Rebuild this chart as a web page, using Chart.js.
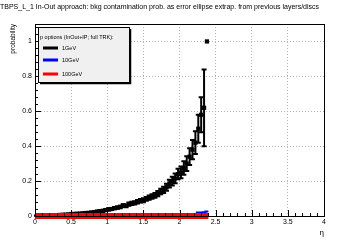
<!DOCTYPE html>
<html>
<head>
<meta charset="utf-8">
<style>
  html, body { margin: 0; padding: 0; background: #fff; }
  #wrap { width: 360px; height: 240px; }
</style>
<script src="https://cdn.jsdelivr.net/npm/chart.js@4.4.1/dist/chart.umd.min.js"></script>
</head>
<body>
<div id="wrap"><canvas id="chart" width="360" height="240"></canvas></div>
<script>
// bin centres in eta (bin width 0.04)
const etaCenters = [0.02, 0.06, 0.10, 0.14, 0.18, 0.22, 0.26, 0.30, 0.34, 0.38,
  0.42, 0.46, 0.50, 0.54, 0.58, 0.62, 0.66, 0.70, 0.74, 0.78,
  0.82, 0.86, 0.90, 0.94, 0.98, 1.02, 1.06, 1.10, 1.14, 1.18,
  1.22, 1.26, 1.30, 1.34, 1.38, 1.42, 1.46, 1.50, 1.54, 1.58,
  1.62, 1.66, 1.70, 1.74, 1.78, 1.82, 1.86, 1.90, 1.94, 1.98,
  2.02, 2.06, 2.10, 2.14, 2.18, 2.22, 2.26, 2.30, 2.34, 2.38];
const binHalfWidth = 0.02;

const prob1GeV = [0.002, 0.002, 0.003, 0.003, 0.004, 0.004, 0.005, 0.005, 0.006, 0.007,
  0.008, 0.009, 0.011, 0.012, 0.013, 0.014, 0.015, 0.017, 0.018, 0.020,
  0.022, 0.025, 0.028, 0.030, 0.034, 0.038, 0.040, 0.045, 0.048, 0.052,
  0.060, 0.058, 0.068, 0.072, 0.075, 0.082, 0.088, 0.090, 0.098, 0.105,
  0.112, 0.118, 0.128, 0.140, 0.150, 0.165, 0.185, 0.200, 0.215, 0.240,
  0.250, 0.275, 0.300, 0.340, 0.380, 0.420, 0.500, 0.580, 0.620, 1.000];
const err1GeV = [0.001, 0.001, 0.001, 0.001, 0.001, 0.002, 0.002, 0.002, 0.002, 0.002,
  0.002, 0.002, 0.003, 0.003, 0.003, 0.003, 0.003, 0.004, 0.004, 0.004,
  0.004, 0.005, 0.005, 0.005, 0.006, 0.006, 0.006, 0.007, 0.007, 0.007,
  0.008, 0.008, 0.009, 0.009, 0.009, 0.010, 0.010, 0.011, 0.011, 0.012,
  0.013, 0.014, 0.015, 0.016, 0.018, 0.020, 0.022, 0.025, 0.028, 0.030,
  0.034, 0.038, 0.042, 0.048, 0.055, 0.065, 0.080, 0.100, 0.220, 0.000];
const prob10GeV = [0, 0, 0, 0, 0, 0, 0, 0, 0, 0,
  0, 0, 0, 0, 0, 0, 0, 0, 0, 0,
  0, 0, 0, 0, 0, 0, 0, 0, 0, 0,
  0, 0, 0, 0, 0, 0, 0, 0, 0, 0,
  0, 0, 0, 0, 0, 0, 0, 0, 0, 0,
  0, 0, 0, 0, 0.002, 0.012, 0.020, 0.020, 0.021, 0.026];
const prob100GeV = [0, 0, 0, 0, 0, 0, 0, 0, 0, 0,
  0, 0, 0, 0, 0, 0, 0, 0, 0, 0,
  0, 0, 0, 0, 0, 0, 0, 0, 0, 0,
  0, 0, 0, 0, 0, 0, 0, 0, 0, 0,
  0, 0, 0, 0, 0, 0, 0, 0, 0, 0,
  0, 0, 0, 0, 0, 0, 0, 0, 0, 0];

const seriesLabels = ["1GeV", "10GeV", "100GeV"];
const seriesColors = ["#000000", "#0000ff", "#ff0000"];
const legendHeader = "p options (InOut+IP; full TRK):";
const chartTitle = "TBPS_L_1 In-Out approach: bkg contamination prob. as error ellipse extrap. from previous layers/discs";

const FONT = "'Liberation Sans', Arial, sans-serif";

// ROOT-like labels: "0", "0.5", "1" rather than "0.0", "1.0"
const tickText = (v) => String(Number(v.toFixed(2)));

// histogram outline: one point per low bin edge plus the last upper edge
function stepPoints(vals) {
  const pts = etaCenters.map((c, i) => ({ x: c - binHalfWidth, y: vals[i] }));
  const last = etaCenters.length - 1;
  pts.push({ x: etaCenters[last] + binHalfWidth, y: vals[last] });
  return pts;
}

const errorBars = {
  id: "errorBars",
  afterDatasetDraw(chart, args) {
    if (args.index !== 0) return;
    const { ctx, scales: { x, y } } = chart;
    ctx.save();
    ctx.strokeStyle = "#000";
    ctx.lineWidth = 2;
    etaCenters.forEach((c, i) => {
      const px = x.getPixelForValue(c);
      const py = y.getPixelForValue(prob1GeV[i]);
      ctx.beginPath();
      ctx.moveTo(x.getPixelForValue(c - binHalfWidth), py);
      ctx.lineTo(x.getPixelForValue(c + binHalfWidth), py);
      if (err1GeV[i] > 0) {
        const top = y.getPixelForValue(prob1GeV[i] + err1GeV[i]);
        const bot = y.getPixelForValue(prob1GeV[i] - err1GeV[i]);
        ctx.moveTo(px, top); ctx.lineTo(px, bot);
        ctx.moveTo(px - 2.5, top); ctx.lineTo(px + 2.5, top);
        ctx.moveTo(px - 2.5, bot); ctx.lineTo(px + 2.5, bot);
      }
      ctx.stroke();
    });
    ctx.restore();
  }
};

const frameAndLegend = {
  id: "frameAndLegend",
  afterDraw(chart) {
    const { ctx, chartArea: a, scales: { x, y } } = chart;
    ctx.save();
    // inward ticks
    ctx.strokeStyle = "#000";
    ctx.lineWidth = 1;
    ctx.beginPath();
    for (let i = 0; i <= 40; i++) {
      const px = Math.round(x.getPixelForValue(i / 10)) + 0.5;
      const len = i % 5 === 0 ? 6 : 3;
      ctx.moveTo(px, a.bottom); ctx.lineTo(px, a.bottom - len);
    }
    for (let i = 0; i <= 27; i++) {
      const py = Math.round(y.getPixelForValue(i * 0.04)) + 0.5;
      const len = i % 5 === 0 ? 6 : 3;
      ctx.moveTo(a.left, py); ctx.lineTo(a.left + len, py);
    }
    ctx.stroke();
    // frame
    ctx.strokeRect(Math.round(a.left) + 0.5, Math.round(a.top) + 0.5,
      Math.round(a.right - a.left), Math.round(a.bottom - a.top));

    // legend box
    const bx = 38, by = 27, bw = 91, bh = 55;
    ctx.fillStyle = "#f0f0f0";
    ctx.fillRect(bx, by, bw, bh);
    ctx.strokeRect(bx + 0.5, by + 0.5, bw, bh);
    ctx.lineWidth = 1.5;
    ctx.beginPath();
    ctx.moveTo(bx + bw + 1.5, by + 2); ctx.lineTo(bx + bw + 1.5, by + bh + 1.5);
    ctx.lineTo(bx + 2, by + bh + 1.5);
    ctx.stroke();
    ctx.fillStyle = "#000";
    ctx.font = "5.5px " + FONT;
    ctx.textBaseline = "middle";
    ctx.fillText(legendHeader, bx + 2, by + 10);
    const rows = [48, 60, 74];
    seriesLabels.forEach((lab, i) => {
      ctx.strokeStyle = seriesColors[i];
      ctx.lineWidth = 3;
      ctx.beginPath();
      ctx.moveTo(43, rows[i]); ctx.lineTo(58, rows[i]);
      ctx.stroke();
      ctx.fillStyle = "#000";
      ctx.fillText(lab, 62, rows[i]);
    });
    ctx.restore();
  }
};

new Chart(document.getElementById("chart"), {
  type: "scatter",
  data: {
    datasets: [
      {
        label: seriesLabels[0],
        data: etaCenters.map((c, i) => ({ x: c, y: prob1GeV[i] })),
        pointStyle: "rect", pointRadius: 3,
        backgroundColor: "#000", borderColor: "#000", borderWidth: 0,
        order: 3,
      },
      {
        label: seriesLabels[1],
        data: stepPoints(prob10GeV),
        type: "line", showLine: true, stepped: "before",
        pointRadius: 0, borderColor: seriesColors[1], borderWidth: 2,
        order: 2, clip: 4,
      },
      {
        label: seriesLabels[2],
        data: stepPoints(prob100GeV),
        type: "line", showLine: true, stepped: "before",
        pointRadius: 0, borderColor: seriesColors[2], borderWidth: 6,
        borderCapStyle: "butt", order: 1, clip: 4,
      },
    ]
  },
  options: {
    responsive: false,
    animation: false,
    devicePixelRatio: 1,
    layout: { padding: { left: 0, right: 36, top: 0, bottom: 0 } },
    plugins: {
      legend: { display: false },
      tooltip: { enabled: false },
      title: {
        display: true, text: chartTitle, align: "start", color: "#000",
        font: { family: FONT, size: 7, weight: "normal" },
        padding: { top: 3, bottom: 12.6 },
      },
    },
    scales: {
      x: {
        type: "linear", min: 0, max: 4,
        afterFit: (s) => { s.height = 24; },
        ticks: { stepSize: 0.5, color: "#000", padding: 2, maxRotation: 0,
          font: { family: FONT, size: 7 }, callback: tickText },
        grid: { color: "#b4b4b4", drawTicks: false, lineWidth: 1 },
        border: { display: false, dash: [1, 2] },
        title: { display: true, text: "η", align: "end", color: "#000",
          font: { family: FONT, size: 8 }, padding: { top: 0, bottom: 2 } },
      },
      y: {
        type: "linear", min: 0, max: 1.1,
        afterFit: (s) => { s.width = 35; },
        ticks: { stepSize: 0.2, includeBounds: false, color: "#000", padding: 3,
          font: { family: FONT, size: 7 }, callback: tickText },
        grid: { color: "#b4b4b4", drawTicks: false, lineWidth: 1 },
        border: { display: false, dash: [1, 2] },
        title: { display: true, text: "probability", align: "end", color: "#000",
          font: { family: FONT, size: 6.5 }, padding: { top: 9, bottom: 0 } },
      },
    },
  },
  plugins: [errorBars, frameAndLegend],
});
</script>
</body>
</html>
